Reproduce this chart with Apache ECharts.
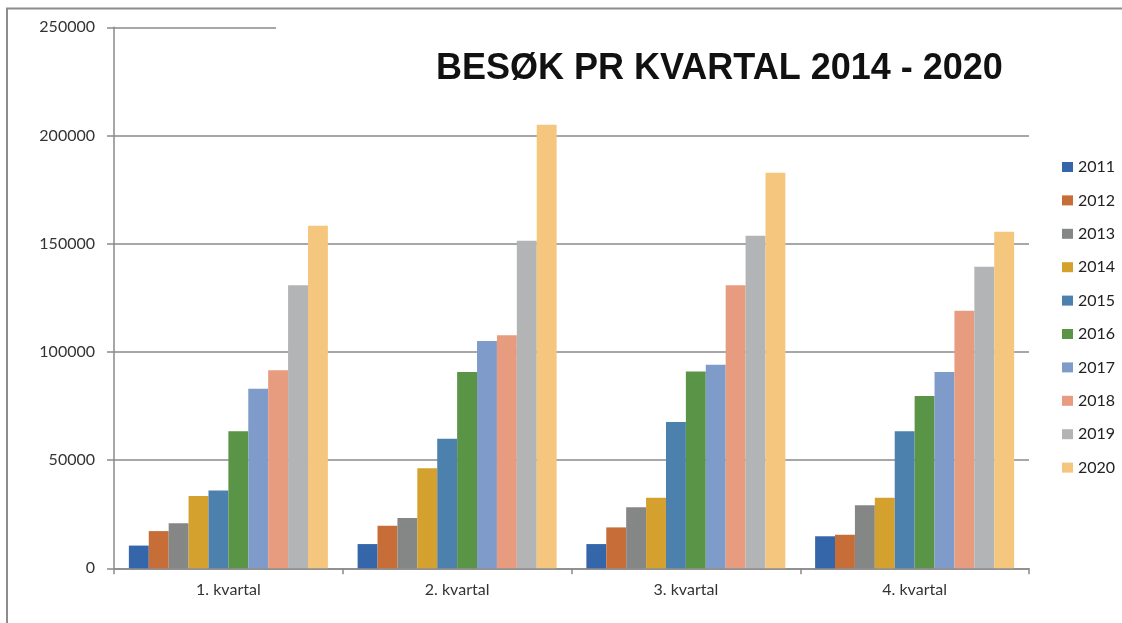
<!DOCTYPE html>
<html>
<head>
<meta charset="utf-8">
<script src="https://cdn.jsdelivr.net/npm/echarts@6/dist/echarts.min.js"></script>
<style>
  html, body { margin: 0; padding: 0; background: #fff; }
  #chart { width: 1122px; height: 623px; }
</style>
</head>
<body>
<div id="chart"></div>
<script>
const kvartaler = ["1. kvartal", "2. kvartal", "3. kvartal", "4. kvartal"];
const aar = ["2011", "2012", "2013", "2014", "2015", "2016", "2017", "2018", "2019", "2020"];
const farger = ["#3566aa", "#c76d38", "#858787", "#d4a02e", "#4c80ad",
                "#5a9547", "#7f9bc9", "#e79c80", "#b2b4b5", "#f5c77e"];

// besøk per år, én verdi per kvartal
const besok2011 = [10500, 11200, 11200, 14800];
const besok2012 = [17200, 19700, 18900, 15500];
const besok2013 = [20800, 23200, 28200, 29100];
const besok2014 = [33400, 46200, 32600, 32600];
const besok2015 = [36000, 59900, 67600, 63300];
const besok2016 = [63300, 90700, 90900, 79600];
const besok2017 = [83000, 105000, 94100, 90700];
const besok2018 = [91500, 107700, 130800, 119000];
const besok2019 = [130800, 151400, 153700, 139400];
const besok2020 = [158300, 205000, 182800, 155500];

const alleBesok = [besok2011, besok2012, besok2013, besok2014, besok2015,
                   besok2016, besok2017, besok2018, besok2019, besok2020];

const yMaks = 250000;
const yIntervall = 50000;

const font = "Lato";
const gra = "#8a8a8a";

const serier = aar.map((navn, i) => ({
  name: navn,
  type: "bar",
  data: alleBesok[i],
  barGap: "0%",
  barCategoryGap: "13%",
  itemStyle: { color: farger[i] }
}));

const chart = echarts.init(document.getElementById("chart"));
chart.setOption({
  animation: false,
  backgroundColor: "#fff",
  title: {
    text: "BESØK PR KVARTAL 2014 - 2020",
    left: 436,
    top: 51,
    padding: 0,
    textStyle: {
      fontFamily: "Liberation Sans",
      fontWeight: "bold",
      fontSize: 36,
      color: "#111"
    }
  },
  legend: {
    orient: "vertical",
    left: 1062,
    top: 159,
    padding: 0,
    itemWidth: 11,
    itemHeight: 10,
    itemGap: 17.4,
    icon: "rect",
    data: aar,
    textStyle: { fontFamily: font, fontSize: 16, color: "#222", lineHeight: 16 }
  },
  grid: { left: 114, right: 93, top: 27.3, bottom: 54.7 },
  xAxis: {
    type: "category",
    data: kvartaler,
    axisLine: { lineStyle: { color: gra, width: 1.5 } },
    axisTick: { show: true, length: 6, lineStyle: { color: gra, width: 1.5 } },
    axisLabel: { fontFamily: font, fontSize: 16, color: "#333", margin: 14 }
  },
  yAxis: {
    type: "value",
    min: 0,
    max: yMaks,
    interval: yIntervall,
    axisLine: { show: true, lineStyle: { color: gra, width: 1.5 } },
    axisTick: { show: true, length: 7, lineStyle: { color: gra, width: 1.5 } },
    axisLabel: {
      fontFamily: font, fontSize: 16, color: "#333", margin: 19,
      formatter: (v) => String(v)
    },
    splitLine: { lineStyle: { color: gra, width: 1.5 } }
  },
  graphic: [
    {
      // tittelboksen dekker toppen av rutenettet
      type: "rect",
      z: 50,
      shape: { x: 276, y: 20, width: 780, height: 14 },
      style: { fill: "#fff" }
    },
    {
      // ramme bare til venstre og øverst
      type: "polyline",
      z: 60,
      shape: { points: [[7, 700], [7, 8.5], [1300, 8.5]] },
      style: { fill: null, stroke: "#8c8c8c", lineWidth: 2 }
    }
  ],
  series: serier
});
</script>
</body>
</html>
